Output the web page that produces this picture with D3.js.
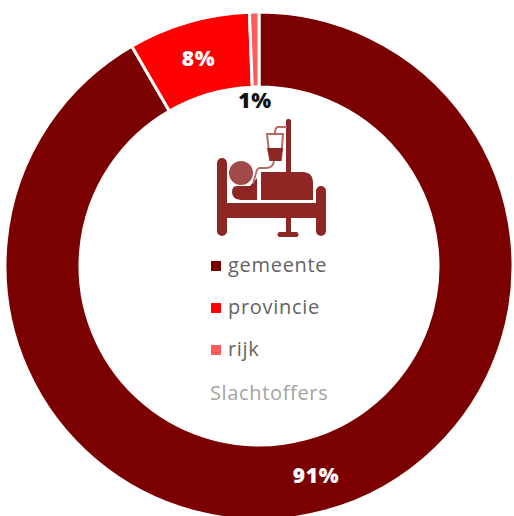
<!DOCTYPE html>
<html><head><meta charset="utf-8">
<script src="https://cdn.jsdelivr.net/npm/d3@7"></script>
<style>html,body{margin:0;padding:0;background:#fff;overflow:hidden}svg{display:block}</style>
</head><body><svg id="c" width="514" height="516"></svg>
<script>
const categories = ["gemeente","provincie","rijk"];
const values = [91.65,7.75,0.6];
const labels = ["91%","8%","1%"];
const colors = ["#7B0000","#FF0000","#FF5B5B"];
const legendTitle = "Slachtoffers";
const font = "'Open Sans','Noto Sans',sans-serif";
const svg = d3.select("#c");
const cx=259, cy=266, R=254, r=179;
const g = svg.append("g").attr("transform",`translate(${cx},${cy})`);
const pie = d3.pie().sort(null).value(d=>d)(values);
const arc = d3.arc().innerRadius(r).outerRadius(R);
g.selectAll("path").data(pie).join("path").attr("d",arc)
  .attr("fill",(d,i)=>colors[i]).attr("stroke","#fff").attr("stroke-width",3);
const labelPos = [[316,477,"#fff"],[198.5,60,"#fff"],[255,102,"#111"]];
svg.selectAll("text.v").data(labels).join("text").attr("class","v")
  .attr("x",(d,i)=>labelPos[i][0]).attr("y",(d,i)=>labelPos[i][1]).attr("fill",(d,i)=>labelPos[i][2])
  .attr("text-anchor","middle").attr("dominant-baseline","middle")
  .attr("font-family",font).attr("font-weight",800).attr("font-size",21).attr("letter-spacing",0.6).text(d=>d);
// icon
const ic = svg.append("g"), dark="#8E2624";
ic.append("path").attr("fill",dark).attr("d","M217 163a5 5 0 0 1 10 0V203H316V191a5 5 0 0 1 10 0V231a5 5 0 0 1-10 0V218H291V232H296a2.5 2.5 0 0 1 0 5H280a2.5 2.5 0 0 1 0-5H286V218H227V231a5 5 0 0 1-10 0Z");
ic.append("path").attr("fill",dark).attr("d","M261 172H302Q313 172 313 183V200H261Z");
ic.append("path").attr("fill",dark).attr("d","M237 186H250L257 178V200H241Q232 199 232 192Q232 186 237 186Z");
ic.append("circle").attr("cx",241).attr("cy",173).attr("r",12).attr("fill","#A14B49");
ic.append("rect").attr("x",286).attr("y",119).attr("width",5).attr("height",54).attr("rx",2).attr("fill",dark);
ic.append("path").attr("fill","none").attr("stroke","#B86A68").attr("stroke-width",2).attr("d","M287 127H278Q275 127 275 134M267 134H283L281 160H270Z");
ic.append("path").attr("fill",dark).attr("d","M267 148H283L281 161H270Z");
ic.append("path").attr("fill","none").attr("stroke","#B86A68").attr("stroke-width",1.8).attr("d","M274 161Q273 168 266 168H260Q257 168 256 173L253 184");
// legend
const ly=[267,309,351];
const items = svg.selectAll("g.l").data(categories).join("g").attr("class","l");
items.append("rect").attr("x",211).attr("y",(d,i)=>ly[i]-6).attr("width",10).attr("height",10).attr("fill",(d,i)=>colors[i]);
items.append("text").attr("x",228).attr("y",(d,i)=>ly[i]).attr("dominant-baseline","middle")
  .attr("font-family",font).attr("font-size",20).attr("letter-spacing",0.7).attr("fill","#636363").text(d=>d);
svg.append("text").attr("x",210).attr("y",395).attr("dominant-baseline","middle")
  .attr("font-family",font).attr("font-size",20).attr("letter-spacing",0.65).attr("fill","#a3a3a3").text(legendTitle);
</script></body></html>
